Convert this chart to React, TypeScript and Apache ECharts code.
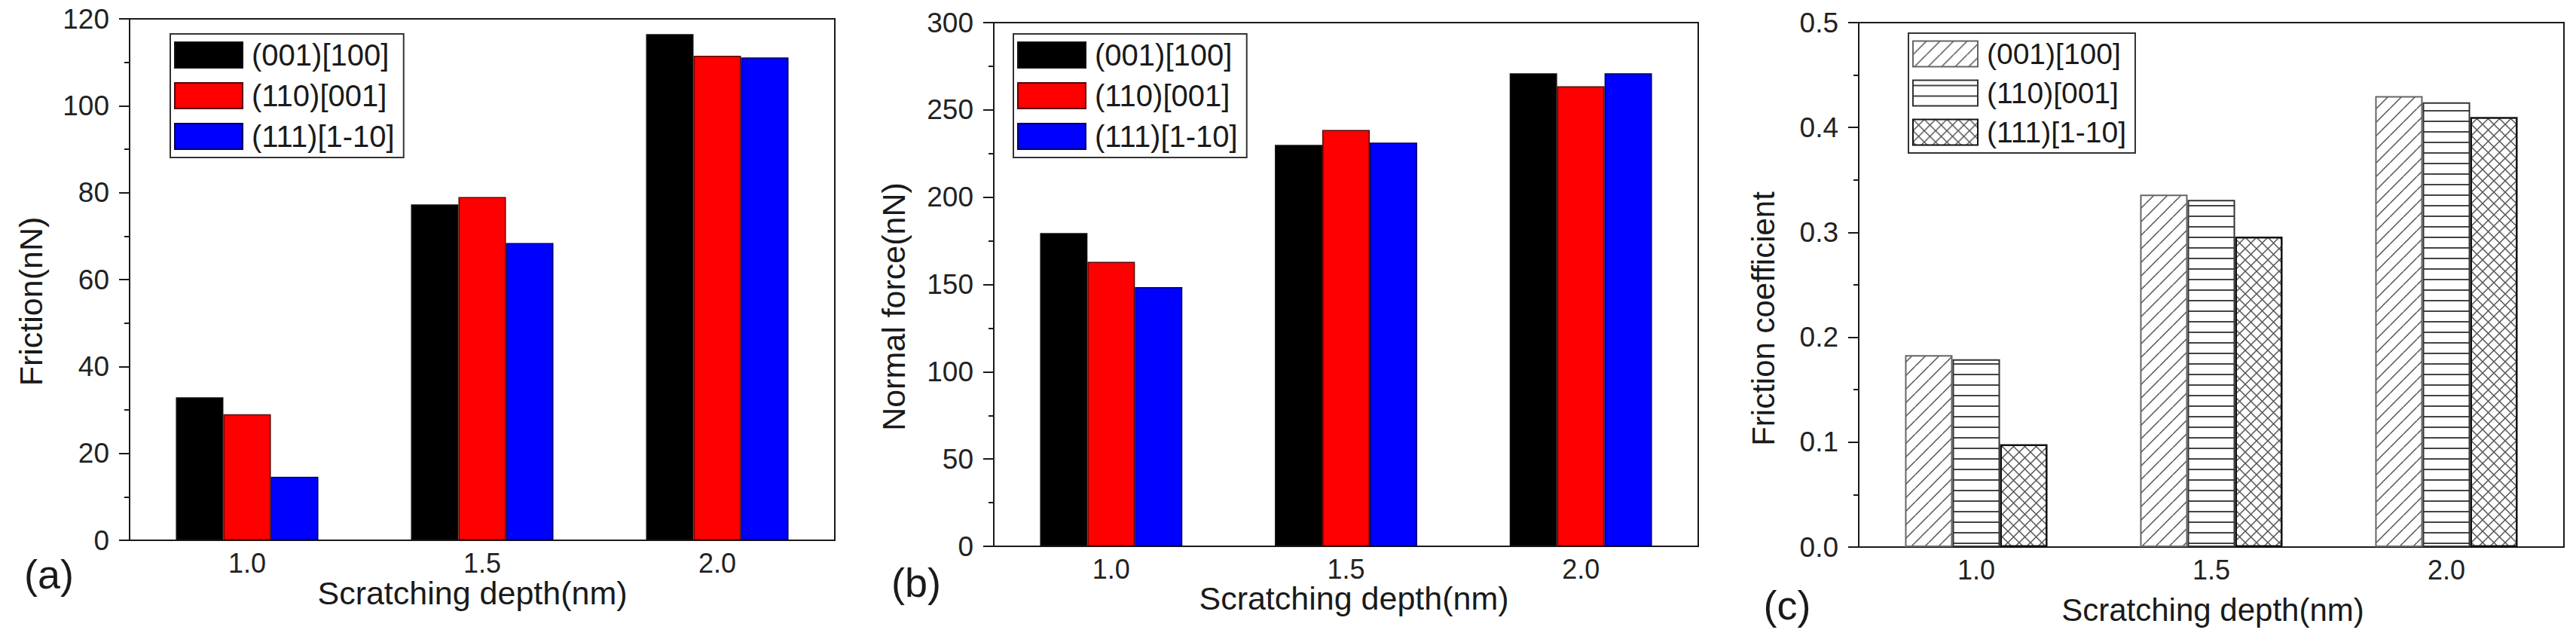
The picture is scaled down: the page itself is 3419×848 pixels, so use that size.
import React, { useEffect, useRef } from 'react';
import * as echarts from 'echarts';

// ---------- data ----------
const categories = ['1.0', '1.5', '2.0'];
const seriesNames = ['(001)[100]', '(110)[001]', '(111)[1-10]'];

// (a) Friction (nN)
const friction001 = [32.9, 77.3, 116.5];
const friction110 = [29.0, 79.0, 111.5];
const friction111 = [14.6, 68.4, 111.1];

// (b) Normal force (nN)
const normal001 = [179.5, 230.0, 271.0];
const normal110 = [163.0, 238.5, 263.5];
const normal111 = [148.5, 231.3, 271.0];

// (c) Friction coefficient
const coef001 = [0.183, 0.336, 0.43];
const coef110 = [0.179, 0.331, 0.424];
const coef111 = [0.098, 0.296, 0.41];

const FONT = "'Liberation Sans', Arial, sans-serif";
const INK = '#1a1a1a';

function makeTile(kind: string) {
  const c = document.createElement('canvas');
  let w = 18;
  let h = 18;
  if (kind === 'hline') { w = 8; h = 14; }
  if (kind === 'cross') { w = 15; h = 15; }
  c.width = w;
  c.height = h;
  const ctx = c.getContext('2d')!;
  ctx.fillStyle = '#fff';
  ctx.fillRect(0, 0, w, h);
  ctx.strokeStyle = '#555';
  ctx.lineWidth = 1.5;
  if (kind === 'slash') {
    ctx.beginPath();
    for (const o of [-w, 0, w]) { ctx.moveTo(o, h); ctx.lineTo(o + w, 0); }
    ctx.stroke();
  } else if (kind === 'hline') {
    ctx.fillStyle = '#444';
    ctx.fillRect(0, 6, w, 2);
  } else {
    ctx.beginPath();
    for (const o of [-w, 0, w]) {
      ctx.moveTo(o, h); ctx.lineTo(o + w, 0);
      ctx.moveTo(o, 0); ctx.lineTo(o + w, h);
    }
    ctx.stroke();
  }
  return { image: c, repeat: 'repeat', imageWidth: w, imageHeight: h } as any;
}

function txt(text: string, x: number, y: number, fontSize: number, fontWeight: string, rotate = false) {
  return {
    type: 'text',
    x,
    y,
    rotation: rotate ? Math.PI / 2 : 0,
    silent: true,
    style: {
      text,
      fontSize,
      fontWeight,
      fontFamily: FONT,
      fill: INK,
      align: 'center',
      verticalAlign: 'middle',
      textAlign: 'center',
      textVerticalAlign: 'middle',
    },
  };
}

interface PanelCfg {
  grid: { left: number; top: number; width: number; height: number };
  max: number;
  interval: number;
  decimals: number;
  legend: { left: number; top: number; itemWidth: number; itemGap: number; fontSize: number };
  series: any[];
  xTitle: [number, number];
  yTitle: [number, number];
  yTitleText: string;
  titleSize: number;
  tag: string;
  tagPos: [number, number];
}

function buildOption(p: PanelCfg) {
  return {
    animation: false,
    grid: {
      ...p.grid,
      show: true,
      borderColor: INK,
      borderWidth: 2,
      backgroundColor: 'transparent',
      containLabel: false,
      outerBoundsMode: 'none',
    },
    legend: {
      orient: 'vertical',
      align: 'left',
      left: p.legend.left,
      top: p.legend.top,
      itemWidth: p.legend.itemWidth,
      itemHeight: 34,
      itemGap: p.legend.itemGap,
      padding: [8, 12, 8, 5],
      borderColor: '#333',
      borderWidth: 2,
      backgroundColor: '#fff',
      selectedMode: false,
      icon: 'rect',
      data: seriesNames,
      textStyle: { fontSize: p.legend.fontSize, color: INK, fontFamily: FONT, padding: [0, 0, 0, 7] },
    },
    xAxis: {
      type: 'category',
      data: categories,
      axisLine: { lineStyle: { color: INK, width: 2 } },
      axisTick: { show: false },
      axisLabel: { fontSize: 36, color: '#222', margin: 12, fontFamily: FONT },
      splitLine: { show: false },
    },
    yAxis: {
      type: 'value',
      min: 0,
      max: p.max,
      interval: p.interval,
      axisLine: { show: true, lineStyle: { color: INK, width: 2 } },
      axisTick: { show: true, length: 14, lineStyle: { color: INK, width: 2 } },
      minorTick: { show: true, splitNumber: 2, length: 7, lineStyle: { color: INK, width: 2 } },
      axisLabel: {
        fontSize: 37,
        color: '#222',
        margin: 27,
        fontFamily: FONT,
        formatter: (v: number) => v.toFixed(p.decimals),
      },
      splitLine: { show: false },
    },
    series: p.series,
    graphic: {
      elements: [
        txt('Scratching depth(nm)', p.xTitle[0], p.xTitle[1], p.titleSize, 'normal'),
        txt(p.yTitleText, p.yTitle[0], p.yTitle[1], p.titleSize, 'normal', true),
        txt(p.tag, p.tagPos[0], p.tagPos[1], 54, 'normal'),
      ],
    },
  };
}

function bar(name: string, data: number[], color: any, borderColor: string, borderWidth: number) {
  return {
    type: 'bar',
    name,
    data,
    barWidth: '20.2%',
    barGap: '0%',
    itemStyle: { color, borderColor, borderWidth },
  };
}

function Panel({ left, width, build }: { left: number; width: number; build: () => any }) {
  const ref = useRef<HTMLDivElement>(null);
  useEffect(() => {
    if (!ref.current) return;
    const chart = echarts.init(ref.current, undefined, { renderer: 'svg' });
    chart.setOption(build());
    return () => chart.dispose();
  }, []);
  return (
    <div
      ref={ref}
      style={{ position: 'absolute', left, top: 0, width, height: 848 }}
    />
  );
}

export default function App() {
  const buildA = () =>
    buildOption({
      grid: { left: 172, top: 25, width: 936, height: 692 },
      max: 120,
      interval: 20,
      decimals: 0,
      legend: { left: 226, top: 45, itemWidth: 90, itemGap: 14, fontSize: 40 },
      series: [
        bar(seriesNames[0], friction001, '#000000', '#111', 1.5),
        bar(seriesNames[1], friction110, '#ff0000', '#5a0000', 1.5),
        bar(seriesNames[2], friction111, '#0000ff', '#00005a', 1.5),
      ],
      xTitle: [627, 787],
      yTitle: [41, 400],
      yTitleText: 'Friction(nN)',
      titleSize: 43,
      tag: '(a)',
      tagPos: [65, 762],
    });

  const buildB = () =>
    buildOption({
      grid: { left: 179, top: 30, width: 935, height: 695 },
      max: 300,
      interval: 50,
      decimals: 0,
      legend: { left: 205, top: 45, itemWidth: 90, itemGap: 14, fontSize: 40 },
      series: [
        bar(seriesNames[0], normal001, '#000000', '#111', 1.5),
        bar(seriesNames[1], normal110, '#ff0000', '#5a0000', 1.5),
        bar(seriesNames[2], normal111, '#0000ff', '#00005a', 1.5),
      ],
      xTitle: [657, 794],
      yTitle: [46, 407],
      yTitleText: 'Normal force(nN)',
      titleSize: 43,
      tag: '(b)',
      tagPos: [76, 773],
    });

  const buildC = () =>
    buildOption({
      grid: { left: 177, top: 30, width: 936, height: 696 },
      max: 0.5,
      interval: 0.1,
      decimals: 1,
      legend: { left: 243, top: 44, itemWidth: 86, itemGap: 13, fontSize: 39 },
      series: [
        bar(seriesNames[0], coef001, makeTile('slash'), '#666', 2),
        bar(seriesNames[1], coef110, makeTile('hline'), '#333', 2),
        bar(seriesNames[2], coef111, makeTile('cross'), '#111', 2.5),
      ],
      xTitle: [647, 809],
      yTitle: [50, 423],
      yTitleText: 'Friction coefficient',
      titleSize: 42,
      tag: '(c)',
      tagPos: [82, 803],
    });

  return (
    <div style={{ position: 'absolute', left: 0, top: 0, width: 3419, height: 848, background: '#fff' }}>
      <Panel left={0} width={1140} build={buildA} />
      <Panel left={1140} width={1150} build={buildB} />
      <Panel left={2290} width={1129} build={buildC} />
    </div>
  );
}
